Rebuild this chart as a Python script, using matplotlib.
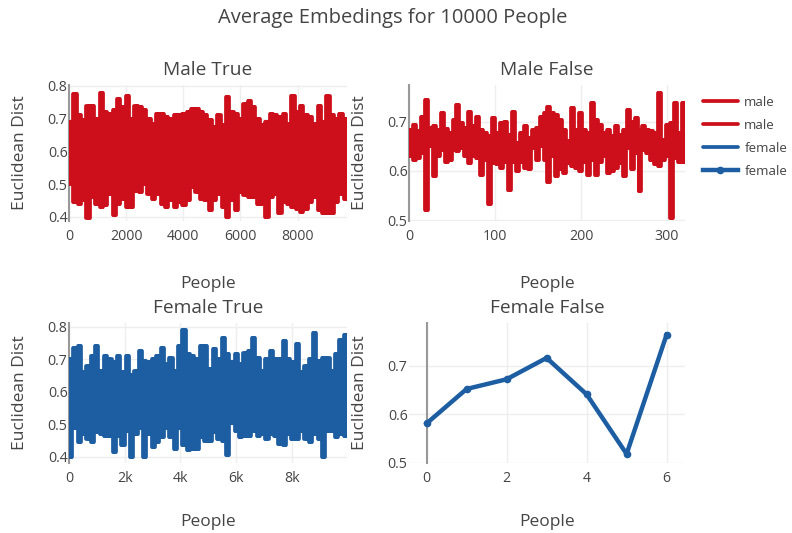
import numpy as np
import matplotlib
matplotlib.use('Agg')
import matplotlib.pyplot as plt

plt.rcParams['font.family'] = ['Open Sans', 'DejaVu Sans']
plt.rcParams['path.simplify'] = False

RED = '#cc0f1a'
BLUE = '#1d5ea2'
TXT = '#444444'
GRID = '#eeeeee'

# ---- data (upper / lower envelope of dense series) ----
male_true_upper = [0.69, 0.775, 0.71, 0.695, 0.74, 0.74, 0.70, 0.78, 0.72, 0.715, 0.725, 0.76,
                   0.735, 0.77, 0.70, 0.74, 0.735, 0.725, 0.70, 0.685, 0.715, 0.715, 0.705, 0.70,
                   0.71, 0.71, 0.715, 0.72, 0.73, 0.73, 0.72, 0.71, 0.695, 0.675, 0.71, 0.68,
                   0.765, 0.72, 0.715, 0.70, 0.745, 0.755, 0.735, 0.70, 0.68, 0.69, 0.715, 0.71,
                   0.705, 0.715, 0.685, 0.77, 0.72, 0.74, 0.71, 0.705, 0.685, 0.74, 0.69, 0.77,
                   0.71, 0.70, 0.715, 0.70]
male_true_lower = [0.50, 0.445, 0.44, 0.45, 0.395, 0.46, 0.44, 0.43, 0.435, 0.47, 0.405, 0.44,
                   0.455, 0.43, 0.43, 0.48, 0.475, 0.50, 0.47, 0.455, 0.47, 0.44, 0.43, 0.45,
                   0.43, 0.445, 0.435, 0.45, 0.49, 0.475, 0.455, 0.45, 0.42, 0.45, 0.47, 0.43,
                   0.40, 0.45, 0.42, 0.475, 0.465, 0.46, 0.46, 0.44, 0.44, 0.40, 0.46, 0.47,
                   0.41, 0.445, 0.44, 0.43, 0.425, 0.415, 0.425, 0.445, 0.46, 0.42, 0.41, 0.41,
                   0.41, 0.445, 0.47, 0.455]
male_true_count = 9730

male_false_upper = [0.683, 0.693, 0.680, 0.710, 0.744, 0.687, 0.690, 0.683, 0.717, 0.685,
                    0.677, 0.703, 0.733, 0.697, 0.687, 0.720, 0.690, 0.710, 0.683, 0.677,
                    0.670, 0.707, 0.677, 0.697, 0.700, 0.673, 0.720, 0.657, 0.677, 0.690,
                    0.667, 0.683, 0.687, 0.710, 0.717, 0.730, 0.717, 0.713, 0.703, 0.683,
                    0.660, 0.727, 0.683, 0.717, 0.683, 0.677, 0.737, 0.703, 0.693, 0.677,
                    0.683, 0.670, 0.690, 0.673, 0.683, 0.724, 0.700, 0.707, 0.683, 0.690,
                    0.683, 0.680, 0.677, 0.757, 0.663, 0.693, 0.697, 0.737, 0.677, 0.738]
male_false_lower = [0.630, 0.623, 0.626, 0.636, 0.521, 0.650, 0.590, 0.630, 0.643, 0.619,
                    0.623, 0.643, 0.640, 0.646, 0.630, 0.616, 0.630, 0.626, 0.592, 0.623,
                    0.532, 0.616, 0.613, 0.606, 0.619, 0.562, 0.619, 0.600, 0.619, 0.606,
                    0.603, 0.646, 0.623, 0.650, 0.623, 0.577, 0.630, 0.590, 0.603, 0.596,
                    0.616, 0.609, 0.606, 0.600, 0.619, 0.592, 0.623, 0.592, 0.619, 0.630,
                    0.596, 0.600, 0.606, 0.616, 0.590, 0.646, 0.603, 0.636, 0.559, 0.643,
                    0.636, 0.623, 0.613, 0.609, 0.623, 0.630, 0.504, 0.626, 0.619, 0.619]
male_false_count = 321

female_true_upper = [0.70, 0.735, 0.74, 0.66, 0.68, 0.71, 0.74, 0.665, 0.71, 0.70, 0.69, 0.71,
                     0.66, 0.71, 0.65, 0.665, 0.725, 0.695, 0.69, 0.70, 0.71, 0.735, 0.685, 0.705,
                     0.665, 0.74, 0.79, 0.715, 0.71, 0.70, 0.74, 0.74, 0.67, 0.73, 0.70, 0.765,
                     0.715, 0.69, 0.715, 0.685, 0.72, 0.725, 0.765, 0.705, 0.665, 0.70, 0.725, 0.70,
                     0.70, 0.755, 0.70, 0.69, 0.745, 0.66, 0.68, 0.70, 0.78, 0.695, 0.705, 0.705,
                     0.665, 0.715, 0.76, 0.775]
female_true_lower = [0.40, 0.49, 0.445, 0.47, 0.455, 0.445, 0.475, 0.47, 0.465, 0.465, 0.415, 0.465,
                     0.435, 0.48, 0.40, 0.47, 0.49, 0.40, 0.47, 0.43, 0.445, 0.46, 0.49, 0.46,
                     0.425, 0.49, 0.435, 0.42, 0.425, 0.425, 0.46, 0.45, 0.45, 0.475, 0.455, 0.45,
                     0.405, 0.505, 0.48, 0.46, 0.465, 0.465, 0.48, 0.465, 0.47, 0.455, 0.47, 0.465,
                     0.44, 0.435, 0.47, 0.455, 0.455, 0.48, 0.455, 0.445, 0.47, 0.455, 0.40, 0.48,
                     0.48, 0.46, 0.47, 0.465]
female_true_count = 9990

female_false_x = [0, 1, 2, 3, 4, 5, 6]
female_false_y = [0.581, 0.652, 0.672, 0.716, 0.641, 0.518, 0.764]

subplot_titles = ['Male True', 'Male False', 'Female True', 'Female False']
main_title = 'Average Embedings for 10000 People'


def strokes(upper, lower, count, reps):
    # each read segment is drawn as several strokes between its two read values
    n = len(upper) * reps
    xs = np.linspace(0, count, n)
    us = np.repeat(upper, reps)
    ls = np.repeat(lower, reps)
    x = np.column_stack([xs, xs, np.full(n, np.nan)]).ravel()
    y = np.column_stack([us, ls, np.full(n, np.nan)]).ravel()
    return x, y


W, H = 792, 533
fig = plt.figure(figsize=(W / 100, H / 100), dpi=100)


def px_axes(left, top, right, bottom):
    return fig.add_axes([left / W, 1 - bottom / H, (right - left) / W, (bottom - top) / H])


ax1 = px_axes(69, 85, 347, 221)
ax2 = px_axes(409, 85, 685, 221)
ax3 = px_axes(69, 323, 347, 463)
ax4 = px_axes(409, 323, 685, 463)

LW = 2.7
x, y = strokes(male_true_upper, male_true_lower, male_true_count, 4)
ax1.plot(x, y, color=RED, lw=LW, solid_capstyle='round', label='male')
x, y = strokes(male_false_upper, male_false_lower, male_false_count, 4)
ax2.plot(x, y, color=RED, lw=LW, solid_capstyle='round', label='male')
x, y = strokes(female_true_upper, female_true_lower, female_true_count, 4)
ax3.plot(x, y, color=BLUE, lw=LW, solid_capstyle='round', label='female')
ax4.plot(female_false_x, female_false_y, color=BLUE, lw=3.2, marker='o', ms=4.5,
         solid_joinstyle='round', label='female')

ax1.set_xlim(0, male_true_count)
ax1.set_ylim(0.387, 0.803)
ax1.set_xticks([0, 2000, 4000, 6000, 8000])
ax1.set_xticklabels(['0', '2000', '4000', '6000', '8000'])
ax1.set_yticks([0.4, 0.5, 0.6, 0.7, 0.8])
ax1.set_yticklabels(['0.4', '0.5', '0.6', '0.7', '0.8'])

ax2.set_xlim(0, male_false_count)
ax2.set_ylim(0.4985, 0.774)
ax2.set_xticks([0, 100, 200, 300])
ax2.set_xticklabels(['0', '100', '200', '300'])
ax2.set_yticks([0.5, 0.6, 0.7])
ax2.set_yticklabels(['0.5', '0.6', '0.7'])

ax3.set_xlim(0, female_true_count)
ax3.set_ylim(0.381, 0.811)
ax3.set_xticks([0, 2000, 4000, 6000, 8000])
ax3.set_xticklabels(['0', '2k', '4k', '6k', '8k'])
ax3.set_yticks([0.4, 0.5, 0.6, 0.7, 0.8])
ax3.set_yticklabels(['0.4', '0.5', '0.6', '0.7', '0.8'])

ax4.set_xlim(-0.44, 6.46)
ax4.set_ylim(0.4994, 0.788)
ax4.set_xticks([0, 2, 4, 6])
ax4.set_xticklabels(['0', '2', '4', '6'])
ax4.set_yticks([0.5, 0.6, 0.7])
ax4.set_yticklabels(['0.5', '0.6', '0.7'])

for ax in (ax1, ax2, ax3, ax4):
    for s in ax.spines.values():
        s.set_visible(False)
    ax.grid(True, color=GRID, lw=1)
    ax.set_axisbelow(True)
    ax.tick_params(length=0, labelcolor=TXT, labelsize=10.2)
    ax.tick_params(axis='x', pad=6)
    ax.tick_params(axis='y', pad=1)
    ax.axvline(0, color='#999999', lw=1.5, zorder=1, clip_on=False)

fig.text(393 / W, 1 - 18 / H, main_title, ha='center', va='center', fontsize=14.5, color=TXT)
for (cx, cy), t in zip([(208, 70), (547, 70), (208, 308), (547, 308)], subplot_titles):
    fig.text(cx / W, 1 - cy / H, t, ha='center', va='center', fontsize=13.8, color=TXT)
for cx, cy in [(208, 284), (547, 284), (208, 522), (547, 522)]:
    fig.text(cx / W, 1 - cy / H, 'People', ha='center', va='center', fontsize=12.5, color=TXT)
for cx, cy in [(20, 153), (360, 153), (20, 393), (360, 393)]:
    fig.text(cx / W, 1 - cy / H, 'Euclidean Dist', ha='center', va='center', fontsize=12.5,
             color=TXT, rotation=90)

handles = [ax1.lines[0], ax2.lines[0], ax3.lines[0], ax4.lines[0]]
labels = ['male', 'male', 'female', 'female']
leg = fig.legend(handles, labels, loc='upper left', bbox_to_anchor=(703 / W, 1 - 96 / H),
                 frameon=False, borderpad=0, borderaxespad=0, handlelength=2.6,
                 handletextpad=0.5, labelspacing=0.75, fontsize=9.6)
for t in leg.get_texts():
    t.set_color(TXT)

fig.savefig('out.png', dpi=100)
